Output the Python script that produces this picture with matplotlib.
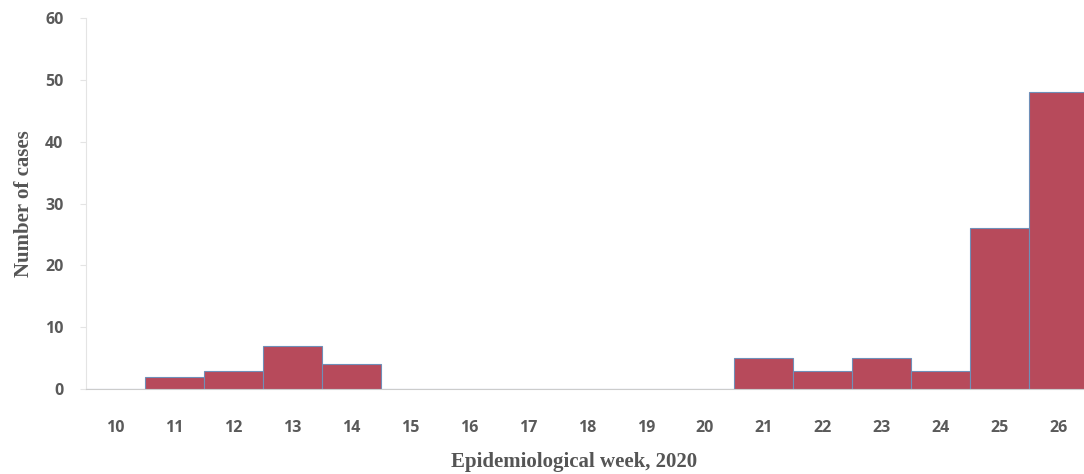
import matplotlib.pyplot as plt
import numpy as np

weeks = [10, 11, 12, 13, 14, 15, 16, 17, 18, 19, 20, 21, 22, 23, 24, 25, 26]
cases = [0, 2, 3, 7, 4, 0, 0, 0, 0, 0, 0, 5, 3, 5, 3, 26, 48]

bar_color = "#b74a5b"
edge_color = "#6f8fb8"
tick_gray = "#5a5a5a"

fig = plt.figure(figsize=(10.84, 4.74), dpi=100)
ax = fig.add_axes([0.079, 0.179, 0.925, 0.783])

ax.bar(weeks, cases, width=1.0, color=bar_color, edgecolor=edge_color, linewidth=0.8)

ax.set_xlim(9.5, 26.5)
ax.set_ylim(0, 60)
ax.set_xticks(weeks)
ax.set_yticks(np.arange(0, 61, 10))

for s in ["top", "right"]:
    ax.spines[s].set_visible(False)
ax.spines["left"].set_color("#e4e4e4")
ax.spines["bottom"].set_color("#cccccc")
ax.spines["left"].set_linewidth(0.8)
ax.spines["bottom"].set_linewidth(0.8)

ax.tick_params(axis="x", length=0, pad=22, labelsize=11.5, labelcolor=tick_gray)
ax.tick_params(axis="y", length=4, color="#e4e4e4", pad=12, labelsize=11.5, labelcolor=tick_gray)
for lab in ax.get_xticklabels() + ax.get_yticklabels():
    lab.set_fontfamily("Open Sans")
    lab.set_fontweight("bold")

ax.set_ylabel("Number of cases", fontsize=15, fontweight="bold", color="#555555",
              fontfamily="Liberation Serif", labelpad=8)
fig.text(0.53, 0.025, "Epidemiological week, 2020", ha="center", va="center",
         fontsize=15, fontweight="bold", color="#555555", fontfamily="Liberation Serif")

fig.savefig("out.png", dpi=100)
